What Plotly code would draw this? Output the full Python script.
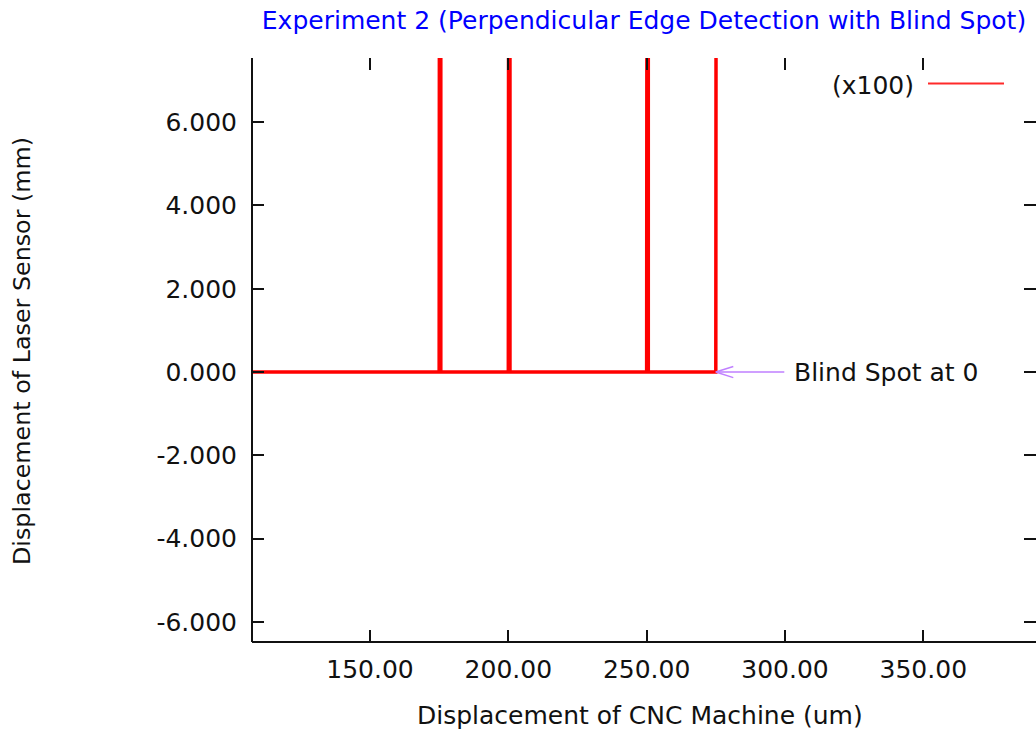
import plotly.graph_objects as go

# ---- data ----
x_um = [100.0, 175.0, 175.6, 175.6, 200.0, 200.6, 200.6, 250.0, 250.6, 250.6, 275.0, 275.6]
disp_mm = [0.0, 0.0, 60.0, 0.0, 0.0, 60.0, 0.0, 0.0, 60.0, 0.0, 0.0, 60.0]
series_name = "(x100)"
blind_spot_x = 275.0
blind_spot_y = 0.0
blind_spot_label = "Blind Spot at 0"

x_tick_vals = [150, 200, 250, 300, 350]
x_tick_text = ["150.00", "200.00", "250.00", "300.00", "350.00"]
y_tick_vals = [-6, -4, -2, 0, 2, 4, 6]
y_tick_text = ["-6.000", "-4.000", "-2.000", "0.000", "2.000", "4.000", "6.000"]

title_text = "Experiment 2 (Perpendicular Edge Detection with Blind Spot)"
x_title = "Displacement of CNC Machine (um)"
y_title = "Displacement of Laser Sensor (mm)"

FONT = "DejaVu Sans"
FS = 25
INK = "#111111"
ARROW = "#c080ff"

W, H = 1036, 731
ML, MR, MT, MB = 252, 0, 58, 89
PW, PH = W - ML - MR, H - MT - MB
X_RANGE = [107.35, 390.74]
Y_RANGE = [-6.48, 7.54]


def px(x):
    return (x - ML) / PW


def py(y):
    return (H - MB - y) / PH


fig = go.Figure()
fig.add_trace(go.Scatter(
    x=x_um, y=disp_mm, mode="lines", name=series_name,
    line=dict(color="#ff0000", width=3.5), showlegend=False,
))

axis_common = dict(
    ticks="inside", ticklen=12, tickwidth=1.5, tickcolor=INK,
    mirror="ticks", showline=False, showgrid=False, zeroline=False,
    tickfont=dict(family=FONT, size=FS, color=INK),
)
fig.update_xaxes(range=X_RANGE, tickmode="array", tickvals=x_tick_vals,
                 ticktext=x_tick_text, ticklabelstandoff=10, **axis_common)
fig.update_yaxes(range=Y_RANGE, tickmode="array", tickvals=y_tick_vals,
                 ticktext=y_tick_text, ticklabelstandoff=14, **axis_common)

shapes = [
    dict(type="line", xref="paper", yref="paper", x0=0, x1=0, y0=0, y1=1,
         line=dict(color=INK, width=2)),
    dict(type="line", xref="paper", yref="paper", x0=0, x1=1, y0=0, y1=0,
         line=dict(color=INK, width=2)),
    # legend sample
    dict(type="line", xref="paper", yref="paper", x0=px(928), x1=px(1004),
         y0=py(83.5), y1=py(83.5), line=dict(color="#ff2a2a", width=2)),
]

annotations = [
    dict(text=y_title, xref="paper", yref="paper", x=px(22), y=py(351),
         textangle=-90, showarrow=False, xanchor="center", yanchor="middle",
         font=dict(family=FONT, size=23.8, color=INK)),
    dict(text=x_title, xref="paper", yref="paper", x=px(640), y=py(715),
         showarrow=False, xanchor="center", yanchor="middle",
         font=dict(family=FONT, size=FS, color=INK)),
    dict(text=series_name, xref="paper", yref="paper", x=px(916), y=py(86),
         showarrow=False, xanchor="right", yanchor="middle",
         font=dict(family=FONT, size=FS, color=INK)),
    # arrow shaft + open head arms
    dict(text="", x=blind_spot_x, y=blind_spot_y, ax=70, ay=0,
         showarrow=True, arrowhead=0, arrowwidth=1.5, arrowcolor=ARROW),
    dict(text="", x=blind_spot_x, y=blind_spot_y, ax=19, ay=-6,
         showarrow=True, arrowhead=0, arrowwidth=1.5, arrowcolor=ARROW),
    dict(text="", x=blind_spot_x, y=blind_spot_y, ax=19, ay=6,
         showarrow=True, arrowhead=0, arrowwidth=1.5, arrowcolor=ARROW),
    dict(text=blind_spot_label,
         x=blind_spot_x + (793 - 717) / (PW / (X_RANGE[1] - X_RANGE[0])),
         y=blind_spot_y, showarrow=False, xanchor="left", yanchor="middle",
         font=dict(family=FONT, size=FS, color=INK)),
]

fig.update_layout(
    width=W, height=H,
    margin=dict(l=ML, r=MR, t=MT, b=MB, pad=0),
    paper_bgcolor="white", plot_bgcolor="white",
    title=dict(text=title_text, x=0.5, xref="paper", xanchor="center",
               y=1 - 20.5 / H, yref="container", yanchor="middle",
               font=dict(family=FONT, size=FS, color="#0000ff")),
    shapes=shapes, annotations=annotations, showlegend=False,
)

fig.write_html("out.html")
